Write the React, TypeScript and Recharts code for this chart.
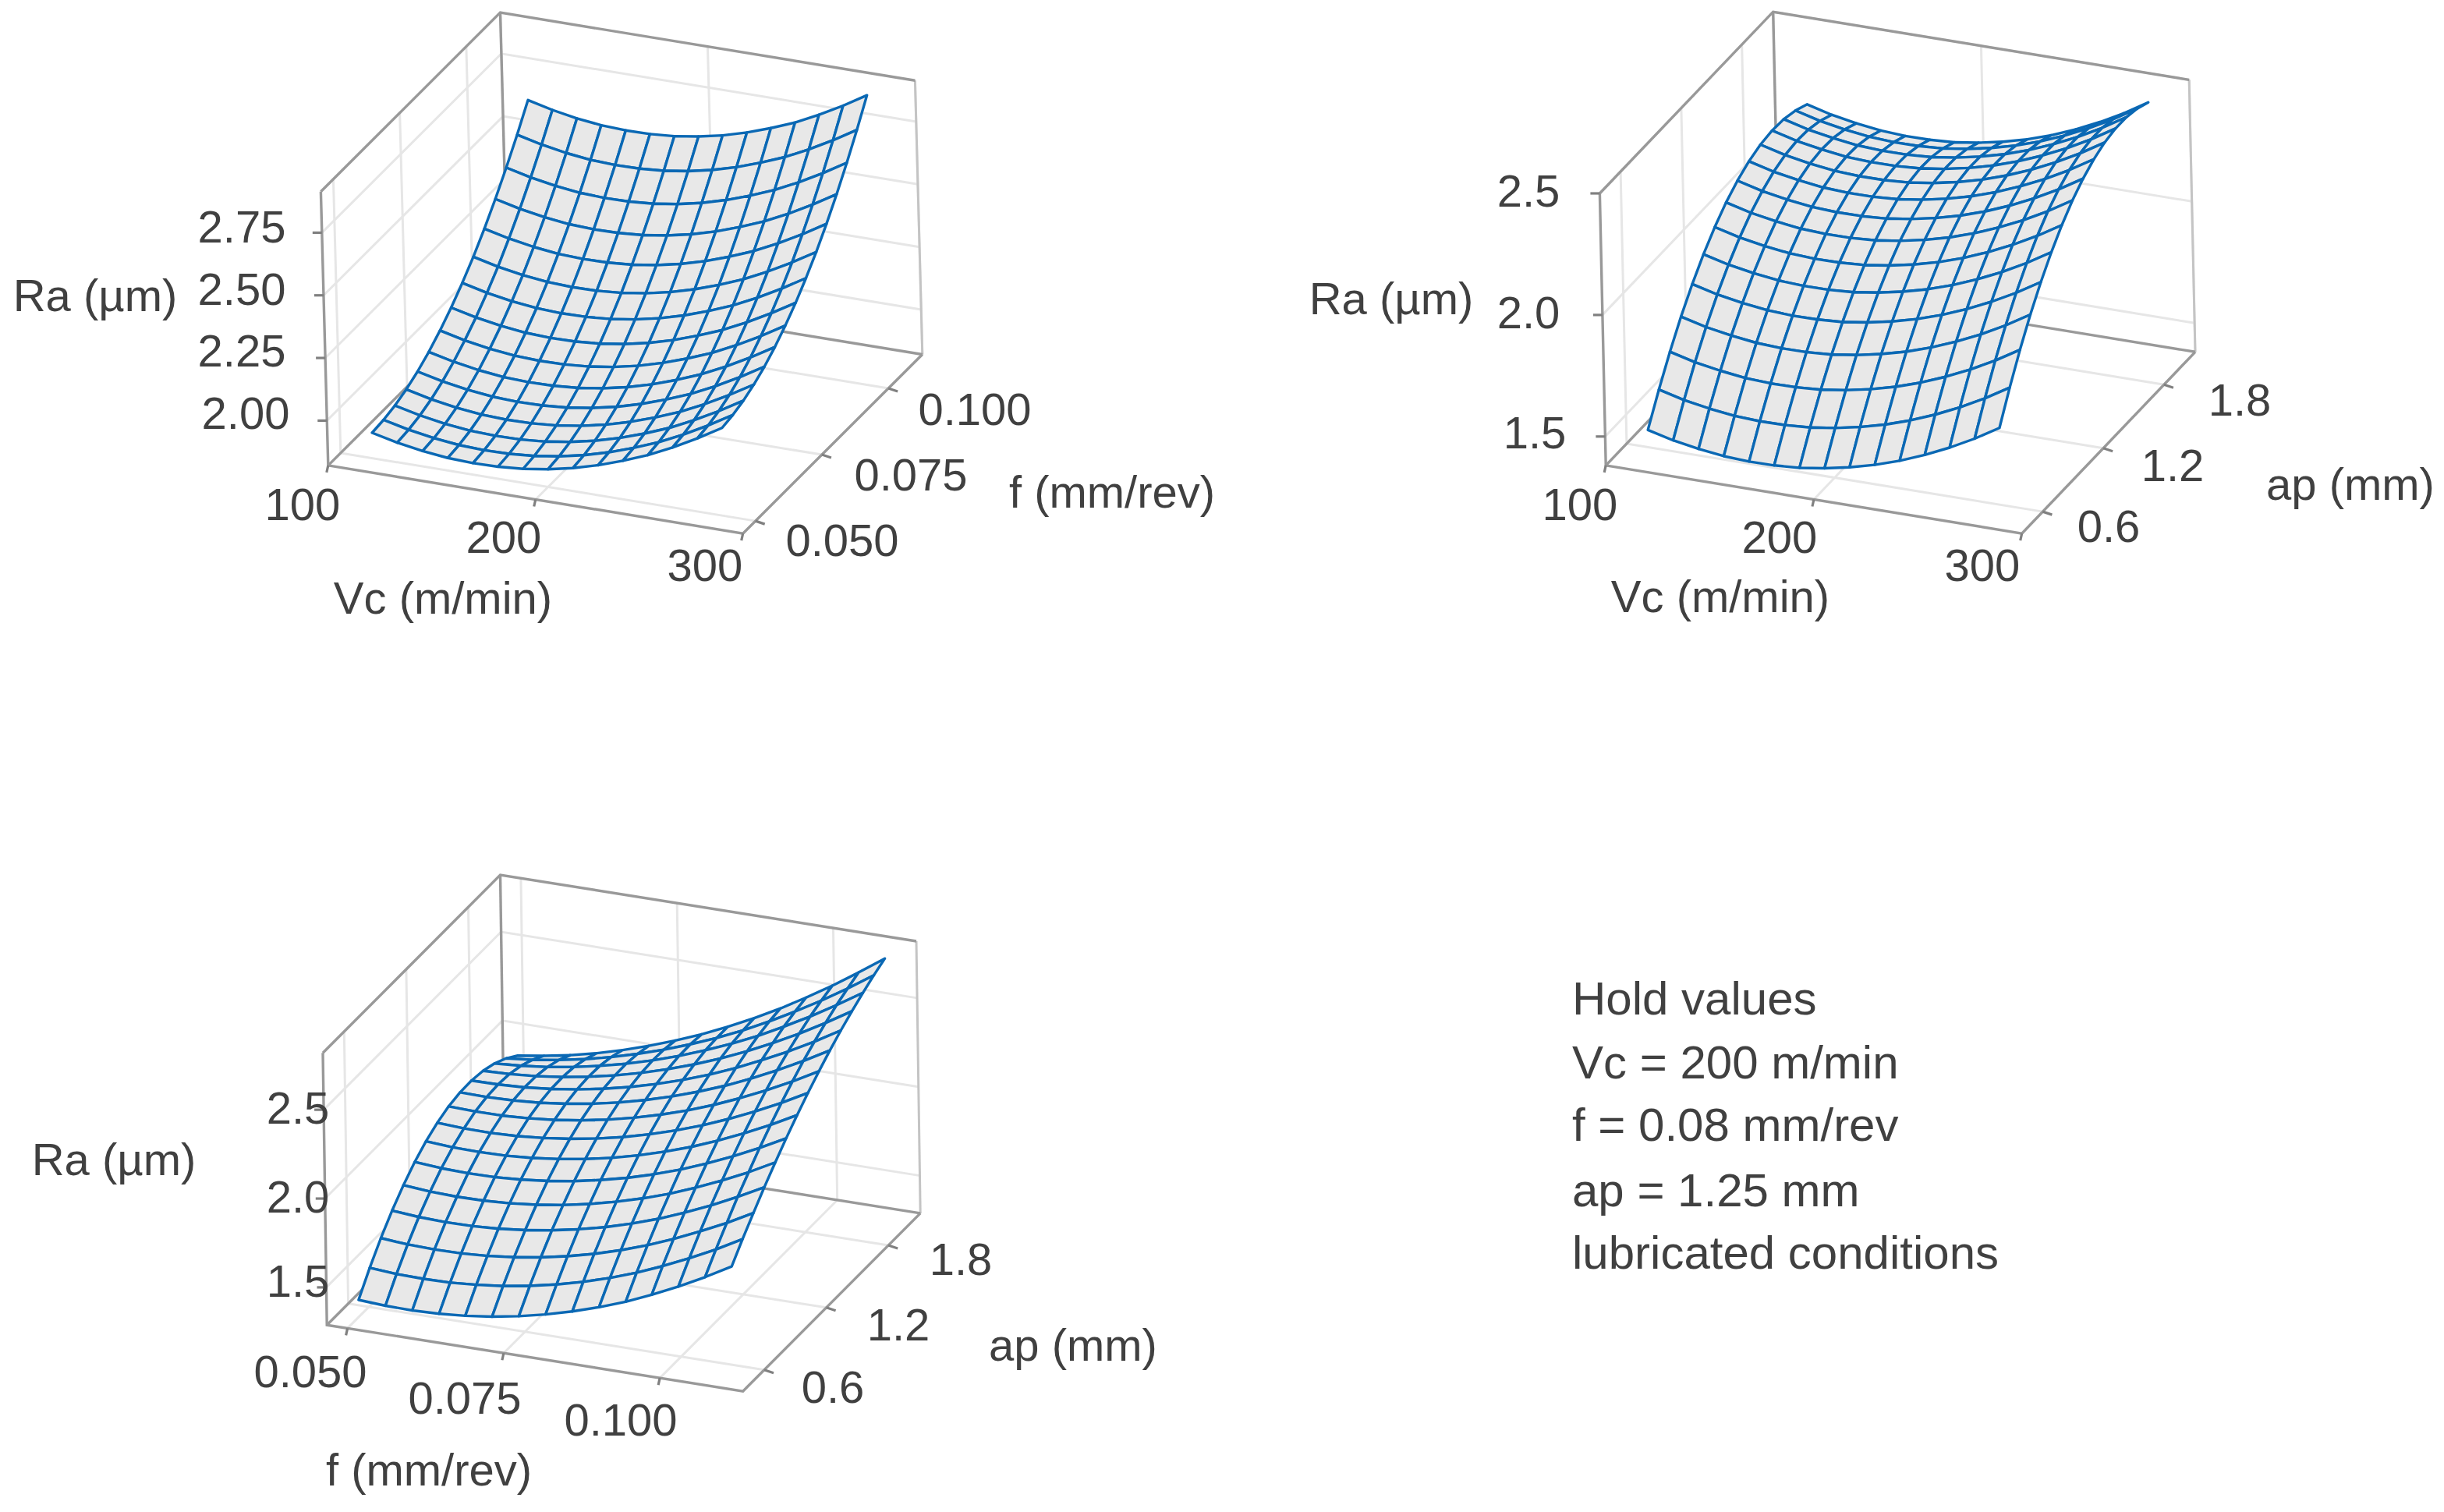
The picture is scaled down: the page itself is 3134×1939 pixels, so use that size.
import { ScatterChart, Scatter, XAxis, YAxis } from "recharts"

// grid levels of the three response surfaces
const vcLevels = [115, 127.1, 139.3, 151.4, 163.6, 175.7, 187.9, 200, 212.1, 224.3, 236.4, 248.6, 260.7, 272.9, 285]
const feedLevelsA = [0.05, 0.054, 0.058, 0.062, 0.066, 0.07, 0.074, 0.078, 0.082, 0.086, 0.09, 0.094, 0.098, 0.102, 0.106]
const feedLevelsB = [0.05, 0.0543, 0.0586, 0.0629, 0.0671, 0.0714, 0.0757, 0.08, 0.0843, 0.0886, 0.0929, 0.0971, 0.1014, 0.1057, 0.11]
const apLevels = [0.5, 0.607, 0.714, 0.821, 0.929, 1.036, 1.143, 1.25, 1.357, 1.464, 1.571, 1.679, 1.786, 1.893, 2.0]

// Ra, one row per f or ap level, one column per x level
const raVcFeed = [
    [1.922, 1.899, 1.882, 1.871, 1.867, 1.869, 1.877, 1.892, 1.913, 1.941, 1.975, 2.014, 2.061, 2.114, 2.172],
    [1.931, 1.908, 1.891, 1.88, 1.876, 1.878, 1.886, 1.901, 1.922, 1.95, 1.984, 2.023, 2.07, 2.123, 2.181],
    [1.946, 1.923, 1.906, 1.895, 1.891, 1.893, 1.901, 1.916, 1.937, 1.965, 1.999, 2.038, 2.085, 2.138, 2.196],
    [1.968, 1.945, 1.928, 1.917, 1.913, 1.915, 1.923, 1.938, 1.959, 1.987, 2.021, 2.06, 2.107, 2.16, 2.218],
    [1.997, 1.974, 1.957, 1.946, 1.942, 1.944, 1.952, 1.967, 1.988, 2.016, 2.05, 2.089, 2.136, 2.189, 2.247],
    [2.033, 2.01, 1.993, 1.982, 1.978, 1.98, 1.988, 2.003, 2.024, 2.052, 2.086, 2.125, 2.172, 2.225, 2.283],
    [2.076, 2.053, 2.036, 2.025, 2.021, 2.023, 2.031, 2.046, 2.067, 2.095, 2.129, 2.168, 2.215, 2.268, 2.326],
    [2.125, 2.102, 2.085, 2.074, 2.07, 2.072, 2.08, 2.095, 2.116, 2.144, 2.178, 2.217, 2.264, 2.317, 2.375],
    [2.181, 2.158, 2.141, 2.13, 2.126, 2.128, 2.136, 2.151, 2.172, 2.2, 2.234, 2.273, 2.32, 2.373, 2.431],
    [2.243, 2.22, 2.203, 2.192, 2.188, 2.19, 2.198, 2.213, 2.234, 2.262, 2.296, 2.335, 2.382, 2.435, 2.493],
    [2.313, 2.29, 2.273, 2.262, 2.258, 2.26, 2.268, 2.283, 2.304, 2.332, 2.366, 2.405, 2.452, 2.505, 2.563],
    [2.389, 2.366, 2.349, 2.338, 2.334, 2.336, 2.344, 2.359, 2.38, 2.408, 2.442, 2.481, 2.528, 2.581, 2.639],
    [2.472, 2.449, 2.432, 2.421, 2.417, 2.419, 2.427, 2.442, 2.463, 2.491, 2.525, 2.564, 2.611, 2.664, 2.722],
    [2.561, 2.538, 2.521, 2.51, 2.506, 2.508, 2.516, 2.531, 2.552, 2.58, 2.614, 2.653, 2.7, 2.753, 2.811],
    [2.657, 2.634, 2.617, 2.606, 2.602, 2.604, 2.612, 2.627, 2.648, 2.676, 2.71, 2.749, 2.796, 2.849, 2.907],
]

const raVcAp = [
    [1.502, 1.476, 1.458, 1.445, 1.44, 1.441, 1.448, 1.463, 1.484, 1.511, 1.545, 1.586, 1.633, 1.687, 1.748],
    [1.621, 1.595, 1.577, 1.564, 1.559, 1.56, 1.567, 1.582, 1.603, 1.63, 1.664, 1.705, 1.752, 1.806, 1.867],
    [1.73, 1.704, 1.686, 1.673, 1.668, 1.669, 1.676, 1.691, 1.712, 1.739, 1.773, 1.814, 1.861, 1.915, 1.976],
    [1.828, 1.802, 1.784, 1.771, 1.766, 1.767, 1.774, 1.789, 1.81, 1.837, 1.871, 1.912, 1.959, 2.013, 2.074],
    [1.915, 1.889, 1.871, 1.858, 1.853, 1.854, 1.861, 1.876, 1.897, 1.924, 1.958, 1.999, 2.046, 2.1, 2.161],
    [1.991, 1.965, 1.947, 1.934, 1.929, 1.93, 1.937, 1.952, 1.973, 2.0, 2.034, 2.075, 2.122, 2.176, 2.237],
    [2.056, 2.03, 2.012, 1.999, 1.994, 1.995, 2.002, 2.017, 2.038, 2.065, 2.099, 2.14, 2.187, 2.241, 2.302],
    [2.111, 2.085, 2.067, 2.054, 2.049, 2.05, 2.057, 2.072, 2.093, 2.12, 2.154, 2.195, 2.242, 2.296, 2.357],
    [2.154, 2.128, 2.11, 2.097, 2.092, 2.093, 2.1, 2.115, 2.136, 2.163, 2.197, 2.238, 2.285, 2.339, 2.4],
    [2.187, 2.161, 2.143, 2.13, 2.125, 2.126, 2.133, 2.148, 2.169, 2.196, 2.23, 2.271, 2.318, 2.372, 2.433],
    [2.209, 2.183, 2.165, 2.152, 2.147, 2.148, 2.155, 2.17, 2.191, 2.218, 2.252, 2.293, 2.34, 2.394, 2.455],
    [2.22, 2.194, 2.176, 2.163, 2.158, 2.159, 2.166, 2.181, 2.202, 2.229, 2.263, 2.304, 2.351, 2.405, 2.466],
    [2.22, 2.194, 2.176, 2.163, 2.158, 2.159, 2.166, 2.181, 2.202, 2.229, 2.263, 2.304, 2.351, 2.405, 2.466],
    [2.209, 2.183, 2.165, 2.152, 2.147, 2.148, 2.155, 2.17, 2.191, 2.218, 2.252, 2.293, 2.34, 2.394, 2.455],
    [2.188, 2.162, 2.144, 2.131, 2.126, 2.127, 2.134, 2.149, 2.17, 2.197, 2.231, 2.272, 2.319, 2.373, 2.434],
]

const raFeedAp = [
    [1.386, 1.377, 1.375, 1.38, 1.392, 1.411, 1.438, 1.472, 1.513, 1.561, 1.616, 1.679, 1.749, 1.826, 1.91],
    [1.504, 1.493, 1.49, 1.493, 1.504, 1.521, 1.546, 1.578, 1.617, 1.663, 1.717, 1.777, 1.845, 1.919, 2.001],
    [1.609, 1.597, 1.593, 1.595, 1.604, 1.621, 1.644, 1.675, 1.712, 1.757, 1.809, 1.868, 1.934, 2.006, 2.086],
    [1.701, 1.689, 1.684, 1.686, 1.695, 1.711, 1.734, 1.764, 1.8, 1.844, 1.895, 1.953, 2.018, 2.09, 2.168],
    [1.781, 1.769, 1.764, 1.766, 1.775, 1.791, 1.813, 1.843, 1.88, 1.923, 1.973, 2.031, 2.095, 2.166, 2.245],
    [1.849, 1.838, 1.834, 1.836, 1.846, 1.862, 1.885, 1.916, 1.952, 1.996, 2.047, 2.104, 2.169, 2.24, 2.318],
    [1.903, 1.893, 1.891, 1.894, 1.905, 1.923, 1.947, 1.978, 2.016, 2.061, 2.112, 2.17, 2.236, 2.307, 2.386],
    [1.945, 1.937, 1.936, 1.942, 1.955, 1.974, 2.0, 2.032, 2.072, 2.118, 2.171, 2.23, 2.296, 2.369, 2.449],
    [1.975, 1.97, 1.971, 1.98, 1.994, 2.016, 2.044, 2.079, 2.12, 2.168, 2.223, 2.284, 2.352, 2.427, 2.508],
    [1.991, 1.989, 1.994, 2.005, 2.023, 2.047, 2.078, 2.116, 2.16, 2.211, 2.268, 2.332, 2.403, 2.48, 2.563],
    [1.995, 1.997, 2.005, 2.02, 2.041, 2.069, 2.103, 2.144, 2.191, 2.245, 2.306, 2.373, 2.446, 2.526, 2.613],
    [1.987, 1.993, 2.005, 2.024, 2.049, 2.081, 2.119, 2.164, 2.215, 2.273, 2.337, 2.407, 2.484, 2.568, 2.658],
    [1.966, 1.977, 1.994, 2.018, 2.048, 2.084, 2.127, 2.176, 2.232, 2.294, 2.362, 2.437, 2.518, 2.606, 2.699],
    [1.932, 1.948, 1.971, 2.0, 2.035, 2.077, 2.125, 2.179, 2.239, 2.306, 2.38, 2.459, 2.545, 2.637, 2.736],
    [1.885, 1.908, 1.936, 1.971, 2.012, 2.06, 2.114, 2.173, 2.24, 2.312, 2.391, 2.476, 2.567, 2.665, 2.768],
]

// tick values of each panel
const vcTicks = [100, 200, 300]
const feedTicks = [0.05, 0.075, 0.1]
const apTicks = [0.6, 1.2, 1.8]
const raTicksA = [2, 2.25, 2.5, 2.75]
const raTicksB = [1.5, 2, 2.5]

// text, centre x, centre y
const tickText: [string, number, number][] = [
    ["2.75", 310, 290], ["2.50", 310, 370], ["2.25", 310, 449], ["2.00", 315, 529],
    ["Ra (µm)", 122, 378],
    ["100", 388, 646], ["200", 646, 688], ["300", 904, 724],
    ["Vc (m/min)", 568, 766],
    ["0.100", 1250, 524], ["0.075", 1168, 608], ["0.050", 1080, 692],
    ["f (mm/rev)", 1426, 630],

    ["2.5", 1960, 244], ["2.0", 1960, 400], ["1.5", 1968, 554],
    ["Ra (µm)", 1784, 382],
    ["100", 2026, 646], ["200", 2282, 688], ["300", 2542, 724],
    ["Vc (m/min)", 2206, 764],
    ["1.8", 2872, 512], ["1.2", 2786, 596], ["0.6", 2704, 674],
    ["ap (mm)", 3014, 620],

    ["2.5", 382, 1420], ["2.0", 382, 1534], ["1.5", 382, 1642],
    ["Ra (µm)", 146, 1486],
    ["0.050", 398, 1758], ["0.075", 596, 1792], ["0.100", 796, 1820],
    ["f (mm/rev)", 550, 1884],
    ["1.8", 1232, 1614], ["1.2", 1152, 1698], ["0.6", 1068, 1778],
    ["ap (mm)", 1376, 1724],
]

const holdText: [string, number][] = [
    ["Hold values", 1280],
    ["Vc = 200 m/min", 1362],
    ["f = 0.08 mm/rev", 1442],
    ["ap = 1.25 mm", 1526],
    ["lubricated conditions", 1606],
]

const WIDTH = 3134
const HEIGHT = 1939
const FONT = "'Liberation Sans', Arial, sans-serif"

const panels = [
    {
        origin: [420.8, 596.9], du: [531.9, 87.2], dv: [230.1, -229.6], dw: [-9.4, -351.2], lean: 20,
        xRange: [100, 300], yRange: [0.0453, 0.1128], raRange: [1.821, 2.914],
        xLevels: vcLevels, yLevels: feedLevelsA, surface: raVcFeed,
        xTicks: vcTicks, yTicks: feedTicks, raTicks: raTicksA,
    },
    {
        origin: [2059.2, 596.9], du: [533.5, 87.2], dv: [222.3, -232.8], dw: [-7.8, -348.9], lean: 18,
        xRange: [100, 300], yRange: [0.394, 2.109], raRange: [1.381, 2.5],
        xLevels: vcLevels, yLevels: apLevels, surface: raVcAp,
        xTicks: vcTicks, yTicks: apTicks, raTicks: raTicksB,
    },
    {
        origin: [419.2, 1699.2], du: [533.5, 84.9], dv: [227.5, -228.2], dw: [-5.2, -348.9], lean: 8,
        xRange: [0.0467, 0.1133], yRange: [0.394, 2.109], raRange: [1.288, 2.82],
        xLevels: feedLevelsB, yLevels: apLevels, surface: raFeedAp,
        xTicks: feedTicks, yTicks: apTicks, raTicks: raTicksB,
    },
]

type Panel = (typeof panels)[number]

const frac = (v: number, range: number[]) => (v - range[0]) / (range[1] - range[0])

// oblique box projection, u/v/w are 0..1 inside the box
const box = (p: Panel, u: number, v: number, w: number) => ({
    x: p.origin[0] + u * p.du[0] + v * p.dv[0] + w * p.dw[0],
    y: p.origin[1] + u * p.du[1] + v * p.dv[1] + w * p.dw[1],
})

function meshPoints(p: Panel) {
    const pts: { x: number; y: number }[] = []
    const at = (i: number, j: number) => {
        const u = frac(p.xLevels[i], p.xRange)
        const v = frac(p.yLevels[j], p.yRange)
        const pos = box(p, u, v, frac(p.surface[j][i], p.raRange))
        // the source's perspective pulls the far left corner inwards
        return { x: pos.x + p.lean * (1 - u) * v, y: pos.y }
    }
    // back rows first so nearer cells paint over them
    for (let j = p.yLevels.length - 2; j >= 0; j--) {
        for (let i = 0; i < p.xLevels.length - 1; i++) {
            pts.push(at(i, j), at(i + 1, j), at(i + 1, j + 1), at(i, j + 1))
        }
    }
    return pts
}

function gridSegments(p: Panel) {
    const segs: { x: number; y: number }[][] = []
    p.raTicks.forEach((r) => {
        const w = frac(r, p.raRange)
        segs.push([box(p, 0, 0, w), box(p, 0, 1, w), box(p, 1, 1, w)])
    })
    p.yTicks.forEach((t) => {
        const v = frac(t, p.yRange)
        segs.push([box(p, 0, v, 1), box(p, 0, v, 0), box(p, 1, v, 0)])
    })
    p.xTicks.forEach((t) => {
        const u = frac(t, p.xRange)
        segs.push([box(p, u, 0, 0), box(p, u, 1, 0), box(p, u, 1, 1)])
    })
    return segs
}

function frameSegments(p: Panel) {
    return [
        [box(p, 0, 0, 1), box(p, 0, 0, 0), box(p, 1, 0, 0), box(p, 1, 1, 0)],
        [box(p, 0, 0, 1), box(p, 0, 1, 1), box(p, 1, 1, 1)],
        [box(p, 0, 0, 0), box(p, 0, 1, 0), box(p, 1, 1, 0)],
        [box(p, 0, 1, 0), box(p, 0, 1, 1)],
    ]
}

const farEdge = (p: Panel) => [[box(p, 1, 1, 0), box(p, 1, 1, 1)]]

function tickSegments(p: Panel) {
    const segs: { x: number; y: number }[][] = []
    p.raTicks.forEach((r) => {
        const a = box(p, 0, 0, frac(r, p.raRange))
        segs.push([a, { x: a.x - 12, y: a.y }])
    })
    p.xTicks.forEach((t) => {
        const a = box(p, frac(t, p.xRange), 0, 0)
        segs.push([a, { x: a.x - 2, y: a.y + 9 }])
    })
    p.yTicks.forEach((t) => {
        const a = box(p, 1, frac(t, p.yRange), 0)
        segs.push([a, { x: a.x + 12, y: a.y + 4 }])
    })
    return segs
}

const noDot = () => <g />

// draws the collected points as four-cornered cells
function Mesh(props: any) {
    const pts = props.points
    const cells = []
    for (let k = 0; k + 3 < pts.length; k += 4) {
        const [a, b, c, d] = [pts[k], pts[k + 1], pts[k + 2], pts[k + 3]]
        cells.push(
            <path
                key={k}
                d={`M${a.x} ${a.y}L${b.x} ${b.y}L${c.x} ${c.y}L${d.x} ${d.y}Z`}
                fill="#e8e8e8"
                stroke="#0a68b4"
                strokeWidth={3.4}
                strokeLinejoin="round"
            />
        )
    }
    return <g>{cells}</g>
}

function Label(props: any) {
    const d = props.payload
    return (
        <text
            x={props.cx}
            y={props.cy + 21}
            textAnchor={d.anchor}
            fontFamily={FONT}
            fontSize={d.size}
            fill="#404040"
        >
            {d.text}
        </text>
    )
}

const labelData = [
    ...tickText.map(([text, x, y]) => ({ text, x, y, anchor: "middle", size: 58 })),
    ...holdText.map(([text, y]) => ({ text, x: 2016, y, anchor: "start", size: 60 })),
]

function lineSeries(key: string, segs: { x: number; y: number }[][], stroke: string, width: number) {
    return segs.map((data, i) => (
        <Scatter
            key={`${key}-${i}`}
            data={data}
            line={{ stroke, strokeWidth: width }}
            shape={noDot}
            isAnimationActive={false}
        />
    ))
}

export default function App() {
    return (
        <div style={{ position: "absolute", left: 0, top: 0, width: WIDTH, height: HEIGHT, background: "#fff" }}>
            <ScatterChart width={WIDTH} height={HEIGHT} margin={{ top: 0, right: 0, bottom: 0, left: 0 }}>
                <XAxis type="number" dataKey="x" domain={[0, WIDTH]} hide allowDataOverflow />
                <YAxis type="number" dataKey="y" domain={[0, HEIGHT]} reversed hide allowDataOverflow />
                {panels.map((p, n) => lineSeries(`grid${n}`, gridSegments(p), "#e6e6e6", 3))}
                {panels.map((p, n) => lineSeries(`far${n}`, farEdge(p), "#c4c4c4", 3))}
                {panels.map((p, n) => lineSeries(`frame${n}`, frameSegments(p), "#999999", 3.4))}
                {panels.map((p, n) => lineSeries(`tick${n}`, tickSegments(p), "#808080", 3.2))}
                {panels.map((p, n) => (
                    <Scatter
                        key={`mesh${n}`}
                        data={meshPoints(p)}
                        line={Mesh}
                        shape={noDot}
                        isAnimationActive={false}
                    />
                ))}
                <Scatter data={labelData} shape={Label} isAnimationActive={false} />
            </ScatterChart>
        </div>
    )
}
